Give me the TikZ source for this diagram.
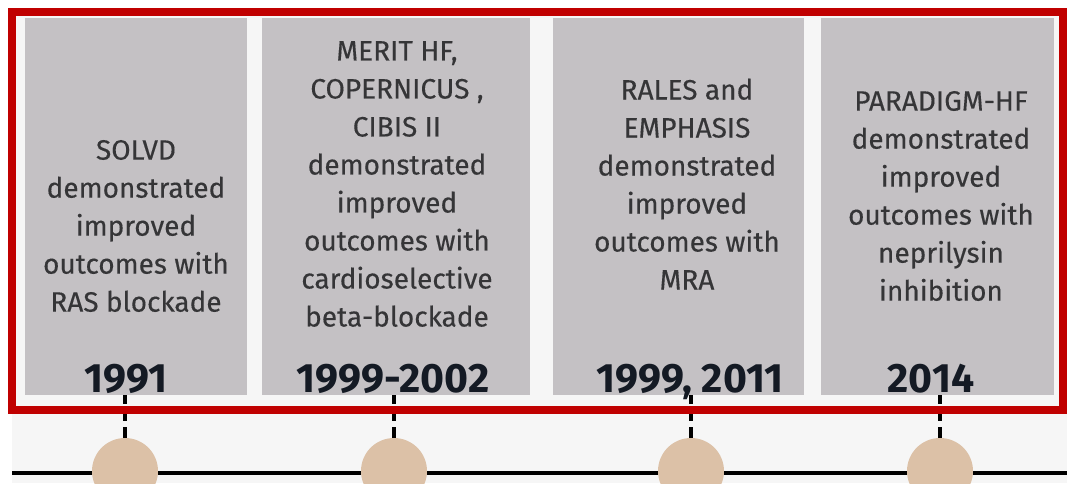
\documentclass[tikz,border=0pt]{standalone}
\usepackage{fontspec}
\setmainfont{Fira Sans}
\newfontfamily\blurbfont{Fira Sans}[FakeBold=0.3]
\usepackage{tikz}
\usetikzlibrary{positioning}
\definecolor{framered}{HTML}{C00000}
\definecolor{cardgray}{HTML}{C4C1C4}
\definecolor{pagegray}{HTML}{F6F6F6}
\definecolor{dottan}{HTML}{DCC1A7}
\definecolor{textgray}{HTML}{353537}
\definecolor{yearink}{HTML}{141A24}

\begin{document}
\begin{tikzpicture}[x=1pt,y=-1pt,
  card/.style={fill=cardgray,inner sep=0pt,anchor=north west,minimum height=377pt},
  blurb/.style={align=center,text=textgray,font=\blurbfont\fontsize{28}{38}\selectfont},
  year/.style={anchor=base,text=yearink,font=\bfseries\fontsize{41}{44}\selectfont},
  milestone/.style={circle,fill=dottan,minimum size=66pt,inner sep=0pt},
  link/.style={line width=4.5pt,dash pattern=on 11pt off 6pt}]
  \useasboundingbox (0,0) rectangle (1076,483);
  \fill[white] (0,0) rectangle (1076,483);
  \fill[pagegray] (12,12) rectangle (1067,483);

  % the four cards
  \node[card,minimum width=222pt] (card1) at (25,18) {};
  \node[card,minimum width=268pt] (card2) at (262,18) {};
  \node[card,minimum width=251pt] (card3) at (553,18) {};
  \node[card,minimum width=233pt] (card4) at (821,18) {};

  \node[blurb] (note1) at (136,226)
    {SOLVD\\demonstrated\\improved\\outcomes with\\RAS blockade};
  \node[blurb] (note2) at (397,184)
    {MERIT HF,\\COPERNICUS ,\\CIBIS II\\demonstrated\\improved\\outcomes with\\cardioselective\\beta-blockade};
  \node[blurb] (note3) at (687,184)
    {RALES and\\EMPHASIS\\demonstrated\\improved\\outcomes with\\MRA};
  \node[blurb] (note4) at (941,196)
    {PARADIGM-HF\\demonstrated\\improved\\outcomes with\\neprilysin\\inhibition};

  \node[year] (year1) at (126,392) {1991};
  \node[year] (year2) at (393,392) {1999-2002};
  \node[year] (year3) at (690,392) {1999, 2011};
  \node[year] (year4) at (931,392) {2014};

  % time axis
  \coordinate (axisL) at (12,473);
  \coordinate (axisR) at (1067,473);
  \draw[line width=4pt] (axisL) -- (axisR);

  \node[milestone] (dot1) at (125,471) {};
  \node[milestone] (dot2) at (394,471) {};
  \node[milestone] (dot3) at (691,471) {};
  \node[milestone] (dot4) at (940,471) {};

  \draw[link] (dot1.north) -- (dot1.north |- card1.south);
  \draw[link] (dot2.north) -- (dot2.north |- card2.south);
  \draw[link] (dot3.north) -- (dot3.north |- card3.south);
  \draw[link] (dot4.north) -- (dot4.north |- card4.south);

  % highlight frame
  \draw[framered,line width=8pt] (11.5,11.5) rectangle (1063,410);
\end{tikzpicture}
\end{document}
